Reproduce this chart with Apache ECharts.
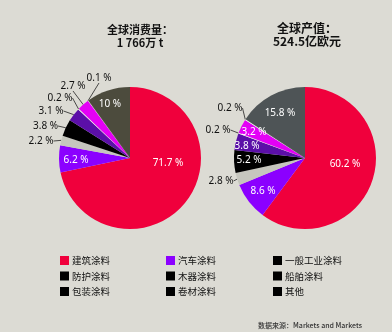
<!DOCTYPE html>
<html>
<head>
<meta charset="utf-8">
<script src="https://cdn.jsdelivr.net/npm/echarts@6/dist/echarts.min.js"></script>
<style>
  html, body { margin: 0; padding: 0; background: #dcdbd4; }
  #chart { width: 392px; height: 332px; }
</style>
</head>
<body>
<div id="chart"></div>
<script>
// Coating segments, in the order the slices are drawn (clockwise from 12 o'clock)
const categories = ['建筑涂料', '汽车涂料', '一般工业涂料', '防护涂料', '木器涂料', '船舶涂料', '包装涂料', '卷材涂料', '其他'];
// Share of global consumption, %
const consumptionShare = [71.7, 6.2, 2.2, 3.8, 3.1, 0.2, 2.7, 0.1, 10];
// Share of global output value, %
const valueShare = [60.2, 8.6, 2.8, 5.2, 3.8, 0.2, 3.2, 0.2, 15.8];
const consumptionTitle = ['全球消费量：', '1 766万 t'];
const valueTitle = ['全球产值：', '524.5亿欧元'];
const sourceNote = '数据来源：Markets and Markets';

// Legend columns (indices into categories)
const legendColumns = [[0, 3, 6], [1, 4, 7], [2, 5, 8]];

const FONT = "'Noto Sans', 'Noto Sans CJK SC', sans-serif";
const CJK = "'Noto Sans CJK SC', 'Noto Sans', sans-serif";

const leftColors  = ['#f0003c', '#8b00ff', '#c6c6be', '#000000', '#5b0fa8', '#ececec', '#e400f6', '#e0e0e0', '#4c4b3d'];
const rightColors = ['#f0003c', '#8b00ff', '#c6c6be', '#000000', '#5b0fa8', '#ececec', '#e400f6', '#ececec', '#4e5456'];

const pies = [
  { center: [130, 158], values: consumptionShare, colors: leftColors,
    inside: [0, 1, 8],
    // label centre offsets from the pie centre, per slice
    labelAt: [[38, 5], [-54, 2], [-89, -17], [-84.5, -32], [-79, -47], [-70, -60], [-57, -72], [-31, -80], [-20, -54]] },
  { center: [305, 158], values: valueShare, colors: rightColors,
    inside: [0, 1, 3, 4, 6, 8],
    labelAt: [[40, 6], [-42, 33], [-84, 23], [-56, 2], [-58, -12], [-87, -28], [-51, -26], [-75, -50], [-25, -45]] }
];
const RADIUS = 71;

function pieSeries(p) {
  return {
    type: 'pie',
    center: p.center,
    radius: RADIUS,
    startAngle: 90,
    clockwise: true,
    avoidLabelOverlap: false,
    animation: false,
    silent: true,
    data: categories.map((name, i) => {
      const isIn = p.inside.indexOf(i) >= 0;
      return {
        name: name,
        value: p.values[i],
        itemStyle: { color: p.colors[i] },
        label: {
          position: isIn ? 'inside' : 'outside',
          color: isIn ? '#ffffff' : '#111111'
        },
        labelLine: { show: !isIn }
      };
    }),
    label: {
      show: true,
      fontFamily: FONT,
      fontSize: 10,
      formatter: (d) => d.value + ' %'
    },
    labelLine: {
      length: 8,
      length2: 0,
      smooth: false,
      lineStyle: { color: '#222', width: 0.8 }
    },
    labelLayout: function (params) {
      const o = p.labelAt[params.dataIndex];
      return {
        x: p.center[0] + o[0],
        y: p.center[1] + o[1],
        align: 'center',
        verticalAlign: 'middle'
      };
    }
  };
}

function legendData(idx) {
  return idx.map(i => ({
    name: categories[i],
    icon: 'rect',
    itemStyle: { color: i < 2 ? leftColors[i] : '#000000' }
  }));
}

const legendLeft = [60, 166, 273];

const option = {
  backgroundColor: '#dcdbd4',
  animation: false,
  title: [
    {
      text: consumptionTitle.join('\n'),
      left: 135, top: 18, textAlign: 'center',
      textStyle: { fontFamily: CJK, fontSize: 11, fontWeight: 'bold', color: '#111', lineHeight: 13 }
    },
    {
      text: valueTitle.join('\n'),
      left: 302, top: 17, textAlign: 'center',
      textStyle: { fontFamily: CJK, fontSize: 12, fontWeight: 'bold', color: '#111', lineHeight: 13 }
    },
    {
      text: sourceNote,
      right: 25, top: 317,
      textStyle: { fontFamily: CJK, fontSize: 7, fontWeight: 500, color: '#333' }
    }
  ],
  legend: legendColumns.map((col, k) => ({
    orient: 'vertical',
    left: legendLeft[k],
    top: 255.5,
    padding: 0,
    itemWidth: 9,
    itemHeight: 9,
    itemGap: 5.5,
    selectedMode: false,
    data: legendData(col),
    textStyle: { fontFamily: CJK, fontSize: 9.5, color: '#111', lineHeight: 10, padding: [0, 0, 0, -2] }
  })),
  series: pies.map(pieSeries)
};

const chart = echarts.init(document.getElementById('chart'), null, { renderer: 'canvas' });
chart.setOption(option);
</script>
</body>
</html>
